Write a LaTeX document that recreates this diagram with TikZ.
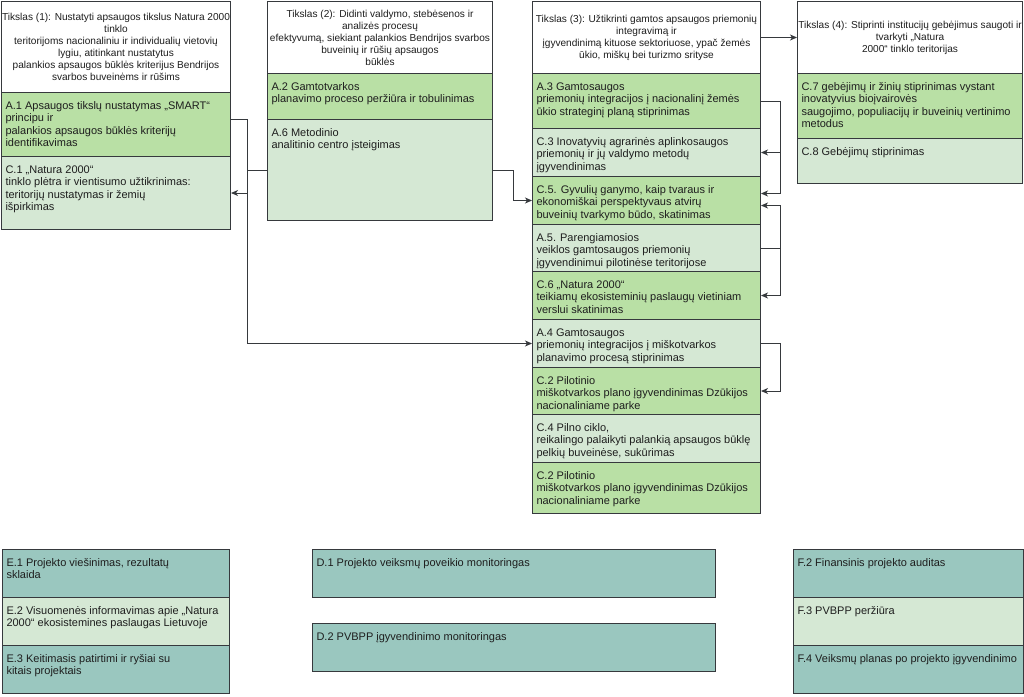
\documentclass[tikz,border=0pt]{standalone}
\usepackage{fontspec}
\setmainfont{Liberation Sans}
\usepackage{tikz}
\usetikzlibrary{arrows.meta, calc}
\tikzset{>={Stealth[length=7pt,width=6pt,inset=2pt]}}
\definecolor{mygreen1}{RGB}{185, 224, 165}
\definecolor{mygreen2}{RGB}{213, 232, 212}
\definecolor{myteal}{RGB}{154, 199, 191}
\definecolor{mygray}{RGB}{54, 57, 61}
\definecolor{mytext}{RGB}{30, 30, 30}
\newcommand{\celltext}[3]{\parbox[t][#2pt][t]{#1pt}{\raggedright\rule{0pt}{12.5pt}#3}}

\begin{document}
\begin{tikzpicture}[x=1pt, y=-1pt, line width=1pt,
  goal/.style={draw=mygray, fill=white, text=mytext, anchor=north west, align=center, inner sep=0pt, font=\fontsize{10.1}{12}\selectfont},
  cell/.style={draw=mygray, text=mytext, anchor=north west, inner xsep=4pt, inner ysep=4pt, font=\fontsize{11}{12.5}\selectfont},
  link/.style={draw=mygray, ->}]
\useasboundingbox (0,0) rectangle (1024,696);
% Tikslas (1)
\node[goal, minimum width=229pt, minimum height=91pt] (T1) at (1,1) {Tikslas (1): Nustatyti apsaugos tikslus Natura 2000\\tinklo\\teritorijoms nacionaliniu ir individualių vietovių\\lygiu, atitinkant nustatytus\\palankios apsaugos būklės kriterijus Bendrijos\\svarbos buveinėms ir rūšims};
\node[cell, fill=mygreen1] (A1) at (1,92) {\celltext{221}{56}{A.1 Apsaugos tikslų nustatymas „SMART“\\principu ir\\palankios apsaugos būklės kriterijų\\identifikavimas}};
\node[cell, fill=mygreen2] (C1) at (1,156) {\celltext{221}{65}{C.1 „Natura 2000“\\tinklo plėtra ir vientisumo užtikrinimas:\\teritorijų nustatymas ir žemių\\išpirkimas}};
% Tikslas (2)
\node[goal, minimum width=225pt, minimum height=72pt] (T2) at (267,1) {Tikslas (2): Didinti valdymo, stebėsenos ir\\analizės procesų\\efektyvumą, siekiant palankios Bendrijos svarbos\\buveinių ir rūšių apsaugos\\būklės};
\node[cell, fill=mygreen1] (A2) at (267,73) {\celltext{217}{38}{A.2 Gamtotvarkos\\planavimo proceso peržiūra ir tobulinimas}};
\node[cell, fill=mygreen2] (A6) at (267,119) {\celltext{217}{93}{A.6 Metodinio\\analitinio centro įsteigimas}};
% Tikslas (3)
\node[goal, minimum width=228pt, minimum height=72pt] (T3) at (532,1) {Tikslas (3): Užtikrinti gamtos apsaugos priemonių\\integravimą ir\\įgyvendinimą kituose sektoriuose, ypač žemės\\ūkio, miškų bei turizmo srityse};
\node[cell, fill=mygreen1] (A3) at (532,73) {\celltext{220}{47}{A.3 Gamtosaugos\\priemonių integracijos į nacionalinį žemės\\ūkio strateginį planą stiprinimas}};
\node[cell, fill=mygreen2] (C3) at (532,128) {\celltext{220}{40}{C.3 Inovatyvių agrarinės aplinkosaugos\\priemonių ir jų valdymo metodų\\įgyvendinimas}};
\node[cell, fill=mygreen1] (C5) at (532,176) {\celltext{220}{40}{C.5. Gyvulių ganymo, kaip tvaraus ir\\ekonomiškai perspektyvaus atvirų\\buveinių tvarkymo būdo, skatinimas}};
\node[cell, fill=mygreen2] (A5) at (532,224) {\celltext{220}{39}{A.5. Parengiamosios\\veiklos gamtosaugos priemonių\\įgyvendinimui pilotinėse teritorijose}};
\node[cell, fill=mygreen1] (C6) at (532,271) {\celltext{220}{40}{C.6 „Natura 2000“\\teikiamų ekosisteminių paslaugų vietiniam\\verslui skatinimas}};
\node[cell, fill=mygreen2] (A4) at (532,319) {\celltext{220}{40}{A.4 Gamtosaugos\\priemonių integracijos į miškotvarkos\\planavimo procesą stiprinimas}};
\node[cell, fill=mygreen1] (C2) at (532,367) {\celltext{220}{39}{C.2 Pilotinio\\miškotvarkos plano įgyvendinimas Dzūkijos\\nacionaliniame parke}};
\node[cell, fill=mygreen2] (C4) at (532,414) {\celltext{220}{40}{C.4 Pilno ciklo,\\reikalingo palaikyti palankią apsaugos būklę\\pelkių buveinėse, sukūrimas}};
\node[cell, fill=mygreen1] (C2b) at (532,462) {\celltext{220}{43}{C.2 Pilotinio\\miškotvarkos plano įgyvendinimas Dzūkijos\\nacionaliniame parke}};
% Tikslas (4)
\node[goal, minimum width=225pt, minimum height=72pt] (T4) at (797,1) {Tikslas (4): Stiprinti institucijų gebėjimus saugoti ir\\tvarkyti „Natura\\2000“ tinklo teritorijas};
\node[cell, fill=mygreen1] (C7) at (797,73) {\celltext{217}{57}{C.7 gebėjimų ir žinių stiprinimas vystant\\inovatyvius bioįvairovės\\saugojimo, populiacijų ir buveinių vertinimo\\metodus}};
\node[cell, fill=mygreen2] (C8) at (797,138) {\celltext{217}{37}{C.8 Gebėjimų stiprinimas}};
% E, D, F
\node[cell, fill=myteal] (E1) at (2,549) {\celltext{219}{40}{E.1 Projekto viešinimas, rezultatų\\sklaida}};
\node[cell, fill=mygreen2] (E2) at (2,597) {\celltext{219}{40}{E.2 Visuomenės informavimas apie „Natura\\2000“ ekosistemines paslaugas Lietuvoje}};
\node[cell, fill=myteal] (E3) at (2,645) {\celltext{219}{40}{E.3 Keitimasis patirtimi ir ryšiai su\\kitais projektais}};
\node[cell, fill=myteal] (D1) at (312,549) {\celltext{395}{40}{D.1 Projekto veiksmų poveikio monitoringas}};
\node[cell, fill=myteal] (D2) at (312,623) {\celltext{395}{40}{D.2 PVBPP įgyvendinimo monitoringas}};
\node[cell, fill=myteal] (F2) at (793,549) {\celltext{222}{40}{F.2 Finansinis projekto auditas}};
\node[cell, fill=mygreen2] (F3) at (793,597) {\celltext{222}{40}{F.3 PVBPP peržiūra}};
\node[cell, fill=myteal] (F4) at (793,645) {\celltext{222}{40}{F.4 Veiksmų planas po projekto įgyvendinimo}};
% connectors
\coordinate (busL) at (247,0);
\draw[link] ([yshift=5pt]A1.east) -| (busL |- A4.west) -- (A4.west);
\draw[link] (A6.west) -| (busL |- C1.east) -- (C1.east);
\draw[link] (A6.east) -- ++(20,0) |- (C5.west);
\draw[link] (A3.east) -- ++(19,0) |- (C3.east);
\draw[link] (A3.east) -- ++(19,0) |- ([yshift=7pt]C5.east);
\draw[link] (A5.east) -- ++(19,0) |- ([yshift=-5pt]C5.east);
\draw[link] (A5.east) -- ++(19,0) |- (C6.east);
\draw[link] (A4.east) -- ++(19,0) |- (C2.east);
\draw[link] (T3) -- (T4);
\end{tikzpicture}
\end{document}
